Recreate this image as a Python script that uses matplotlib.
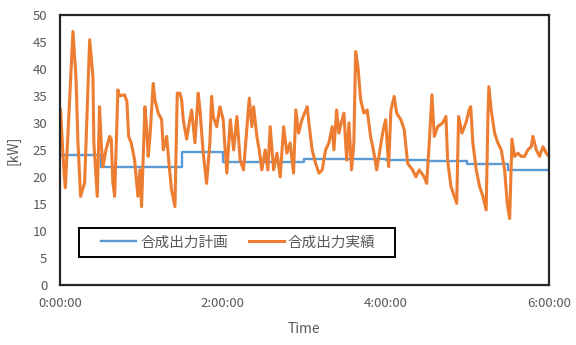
import matplotlib
matplotlib.use('Agg')
import matplotlib.pyplot as plt
from matplotlib.patches import Rectangle

plt.rcParams['font.family'] = ['Noto Sans CJK JP', 'DejaVu Sans']

# plan (step, minutes from 0:00:00)
plan_t = [0, 30, 90, 120, 180, 240, 270, 300, 330, 360]
plan_kw = [24.1, 21.8, 24.6, 22.7, 23.4, 23.2, 22.9, 22.3, 21.2, 21.2]

act_t = [0.5, 2.2, 3.5, 4.0, 9.6, 11.8, 13.3, 15.2, 18.2, 21.9, 24.3, 25.0, 26.7, 27.5,
         29.2, 30.4, 31.7, 33.9, 36.6, 37.8, 39.0, 40.3, 42.7, 43.9, 47.6, 49.3, 50.6,
         52.5, 55.0, 57.4, 58.9, 60.1, 62.6, 63.8, 65.0, 66.3, 68.7, 69.9, 72.4, 74.9,
         76.1, 78.6, 80.5, 82.2, 84.7, 86.4, 88.3, 89.6, 90.8, 93.3, 95.2, 97.0, 99.4,
         101.8, 103.1, 105.5, 108.0, 110.4, 111.7, 112.9, 115.4, 117.8, 120.2, 121.3,
         122.9, 125.4, 127.9, 130.3, 132.7, 135.2, 137.7, 139.4, 141.3, 142.6, 145.0,
         146.7, 148.7, 151.1, 153.1, 154.8, 157.3, 159.8, 162.2, 164.7, 167.1, 169.5,
         172.0, 173.7, 175.7, 178.2, 182.1, 183.3, 185.7, 188.2, 190.7, 193.1, 195.6,
         198.0, 200.5, 201.7, 203.7, 205.4, 207.1, 209.1, 211.1, 212.8, 214.7, 216.4,
         217.7, 219.4, 221.4, 223.8, 226.2, 228.7, 231.2, 233.2, 235.6, 238.0, 239.8,
         242.0, 243.7, 246.1, 247.9, 251.0, 253.5, 256.0, 259.6, 262.1, 264.5, 268.2,
         270.0, 271.9, 273.9, 275.6, 278.1, 281.8, 284.2, 285.4, 287.9, 290.3, 292.1,
         293.5, 296.0, 298.9, 301.3, 302.4, 304.0, 306.5, 309.0, 311.4, 313.8, 315.1,
         315.8, 317.5, 320.0, 322.4, 324.9, 327.4, 329.3, 331.1, 332.8, 334.7, 337.2,
         339.6, 342.1, 344.5, 347.0, 348.2, 350.7, 353.1, 355.6, 358.0, 360.0]
act_kw = [32.4, 24.4, 19.4, 18.0, 46.9, 38.6, 26.3, 16.4, 18.9, 45.4, 38.6, 26.3, 19.4, 16.4,
          33.0, 26.3, 21.9, 25.0, 27.5, 27.0, 18.9, 16.4, 36.1, 35.0, 35.2, 34.0, 27.5,
          26.3, 23.1, 16.4, 21.3, 14.5, 33.0, 29.3, 23.8, 27.5, 37.3, 34.3, 31.8, 30.6,
          25.0, 27.5, 21.9, 17.6, 14.5, 35.5, 35.5, 34.3, 30.6, 27.0, 30.0, 32.4, 26.3,
          35.5, 32.4, 24.4, 18.8, 26.3, 34.9, 31.2, 29.3, 33.0, 30.6, 26.3,
          20.7, 30.6, 25.0, 31.2, 23.1, 21.3, 29.3, 34.6, 29.3, 33.0, 27.5,
          25.0, 21.3, 25.0, 21.3, 29.3, 21.3, 24.4, 20.0, 29.3, 24.4, 26.3,
          20.7, 32.4, 28.1, 30.6, 33.0, 30.0, 25.0, 22.5, 20.7, 21.3, 25.0,
          26.3, 29.3, 25.0, 32.4, 28.1, 30.0, 31.8, 23.1, 30.0, 21.3, 26.3,
          43.2, 40.4, 34.3, 31.8, 32.4, 27.5, 24.4, 21.3, 25.0, 28.7, 30.6,
          21.9, 32.4, 34.9, 31.8, 30.6, 28.7, 22.5, 21.3, 20.0, 21.3, 20.0,
          18.8, 26.3, 35.2, 27.5, 29.3, 30.0, 31.2, 23.1, 18.2, 16.4, 15.1,
          31.2, 28.1, 30.0, 32.4, 33.0, 26.3, 21.3, 18.2, 16.4, 13.9, 31.2,
          36.7, 32.4, 28.1, 26.3, 25.0, 21.3, 15.1, 12.3, 27.0, 23.8, 24.4,
          23.8, 23.8, 25.0, 25.6, 27.5, 25.0, 23.8, 25.6, 24.4, 23.8]

xticks = [0, 120, 240, 360]
xlabels = ['0:00:00', '2:00:00', '4:00:00', '6:00:00']
yticks = list(range(0, 51, 5))

grey = '#595959'

fig = plt.figure(figsize=(5.76, 3.45), dpi=100)
ax = fig.add_axes([0.104, 0.174, 0.849, 0.783])

ax.step(plan_t, plan_kw, where='post', color='#5B9BD5', lw=1.7, label='合成出力計画')
ax.plot(act_t, act_kw, color='#ED7D31', lw=2.2, label='合成出力実績')

ax.set_xlim(0, 360)
ax.set_ylim(0, 50)
ax.set_xticks(xticks)
ax.set_xticklabels(xlabels)
ax.set_yticks(yticks)
ax.tick_params(length=0, labelsize=9.5, labelcolor=grey, pad=9)
for s in ax.spines.values():
    s.set_color('#262626')
    s.set_linewidth(1.6)

ax.set_ylabel('[kW]', color=grey, fontsize=10, labelpad=9)
ax.set_xlabel('Time', color=grey, fontsize=10, labelpad=8)

# legend box drawn by hand so the padding matches
box = Rectangle((0.039, 0.104), 0.646, 0.107, transform=ax.transAxes,
                fill=True, facecolor='white', edgecolor='black', lw=1.4, zorder=4)
ax.add_patch(box)
leg = ax.legend(loc='center', bbox_to_anchor=(0.365, 0.157), ncol=2, frameon=False,
                fontsize=10.5, handlelength=2.4, handletextpad=0.3, columnspacing=1.4,
                borderaxespad=0)
leg.set_zorder(5)
for t in leg.get_texts():
    t.set_color(grey)

fig.savefig('out.png', dpi=100)
